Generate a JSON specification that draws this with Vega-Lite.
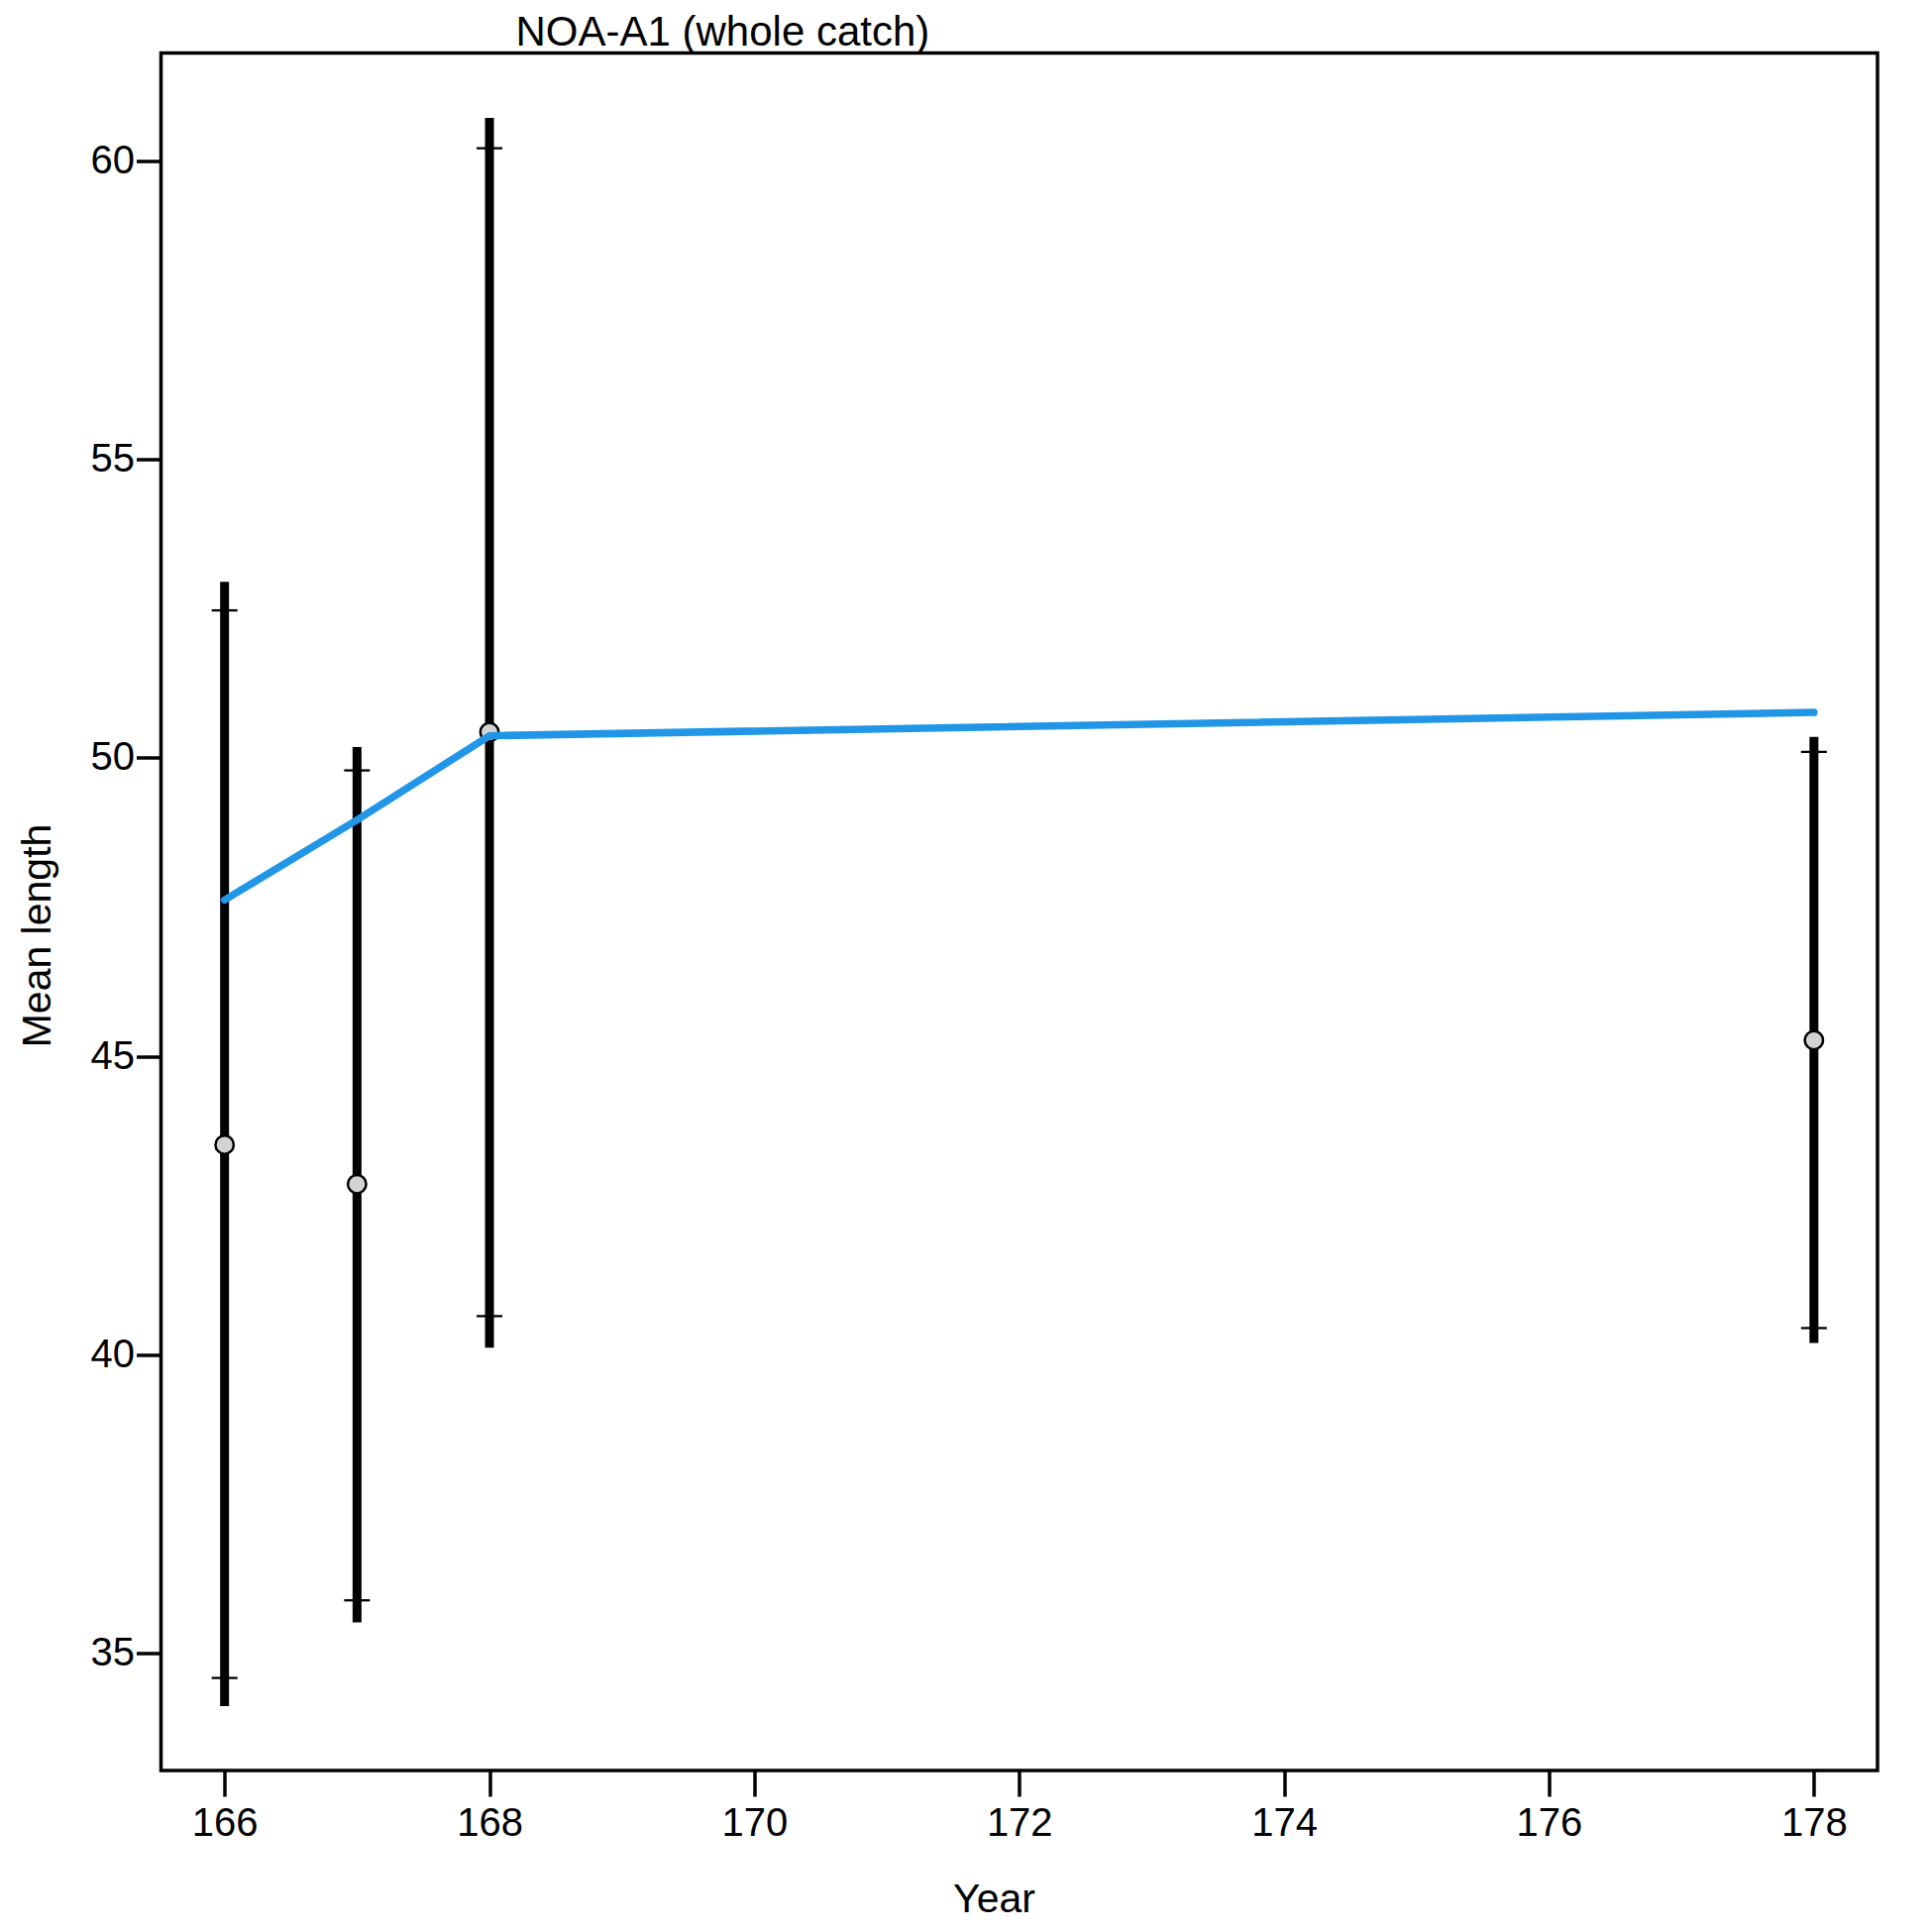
{
  "$schema": "https://vega.github.io/schema/vega-lite/v6.json",
  "autosize": {"type": "none"},
  "padding": {"left": 162.5, "top": 53.5, "right": 55, "bottom": 163},
  "width": 1732.5,
  "height": 1733.5,
  "background": "white",
  "title": {
    "text": "NOA-A1 (whole catch)",
    "anchor": "start",
    "frame": "group",
    "dx": 358,
    "dy": 44,
    "offset": 9.5,
    "baseline": "alphabetic",
    "font": "Liberation Sans",
    "fontSize": 42,
    "fontWeight": "normal",
    "color": "black"
  },
  "config": {
    "view": {"stroke": "black", "strokeWidth": 3.5},
    "axis": {
      "domain": false,
      "grid": false,
      "tickColor": "black",
      "tickWidth": 3.5,
      "labelFont": "Liberation Sans",
      "labelFontSize": 40,
      "labelColor": "black",
      "titleFont": "Liberation Sans",
      "titleFontSize": 41,
      "titleFontWeight": "normal",
      "titleColor": "black"
    }
  },
  "data": {
    "values": [
      {"year": 166, "mean": 43.52, "lo_outer": 34.12, "hi_outer": 52.95, "lo_inner": 34.59, "hi_inner": 52.47, "expected": 47.62},
      {"year": 167, "mean": 42.86, "lo_outer": 35.52, "hi_outer": 50.18, "lo_inner": 35.89, "hi_inner": 49.79, "expected": 48.96},
      {"year": 168, "mean": 50.43, "lo_outer": 40.12, "hi_outer": 60.72, "lo_inner": 40.65, "hi_inner": 60.21, "expected": 50.37},
      {"year": 178, "mean": 45.27, "lo_outer": 40.2, "hi_outer": 50.35, "lo_inner": 40.45, "hi_inner": 50.1, "expected": 50.76}
    ]
  },
  "encoding": {
    "x": {
      "field": "year",
      "type": "quantitative",
      "scale": {"domain": [165.52, 178.48], "nice": false, "zero": false},
      "axis": {
        "values": [166, 168, 170, 172, 174, 176, 178],
        "format": "d",
        "tickSize": 26,
        "labelPadding": 7,
        "title": "Year",
        "titleX": 840.5,
        "titleY": 142,
        "titleBaseline": "alphabetic",
        "titleAlign": "center"
      }
    }
  },
  "layer": [
    {
      "mark": {"type": "rule", "color": "black", "strokeWidth": 9, "strokeCap": "butt"},
      "encoding": {
        "y": {
          "field": "lo_outer",
          "type": "quantitative",
          "scale": {"domain": [33.04, 61.805], "nice": false, "zero": false},
          "axis": {
            "values": [35, 40, 45, 50, 55, 60],
            "format": "d",
            "tickSize": 25,
            "labelPadding": 2,
            "title": "Mean length",
            "titleAngle": -90,
            "titleX": -112.5,
            "titleY": 890.5,
            "titleBaseline": "alphabetic",
            "titleAlign": "center"
          }
        },
        "y2": {"field": "hi_outer"}
      }
    },
    {
      "mark": {"type": "tick", "orient": "horizontal", "color": "black", "size": 26, "thickness": 2.3, "opacity": 1},
      "encoding": {"y": {"field": "lo_inner", "type": "quantitative"}}
    },
    {
      "mark": {"type": "tick", "orient": "horizontal", "color": "black", "size": 26, "thickness": 2.3, "opacity": 1},
      "encoding": {"y": {"field": "hi_inner", "type": "quantitative"}}
    },
    {
      "mark": {"type": "point", "shape": "circle", "filled": true, "fill": "#d3d3d3", "stroke": "black", "strokeWidth": 2.5, "size": 340, "opacity": 1},
      "encoding": {"y": {"field": "mean", "type": "quantitative"}}
    },
    {
      "mark": {"type": "line", "color": "#2196e6", "strokeWidth": 7.5, "strokeCap": "round"},
      "encoding": {"y": {"field": "expected", "type": "quantitative"}}
    }
  ]
}
